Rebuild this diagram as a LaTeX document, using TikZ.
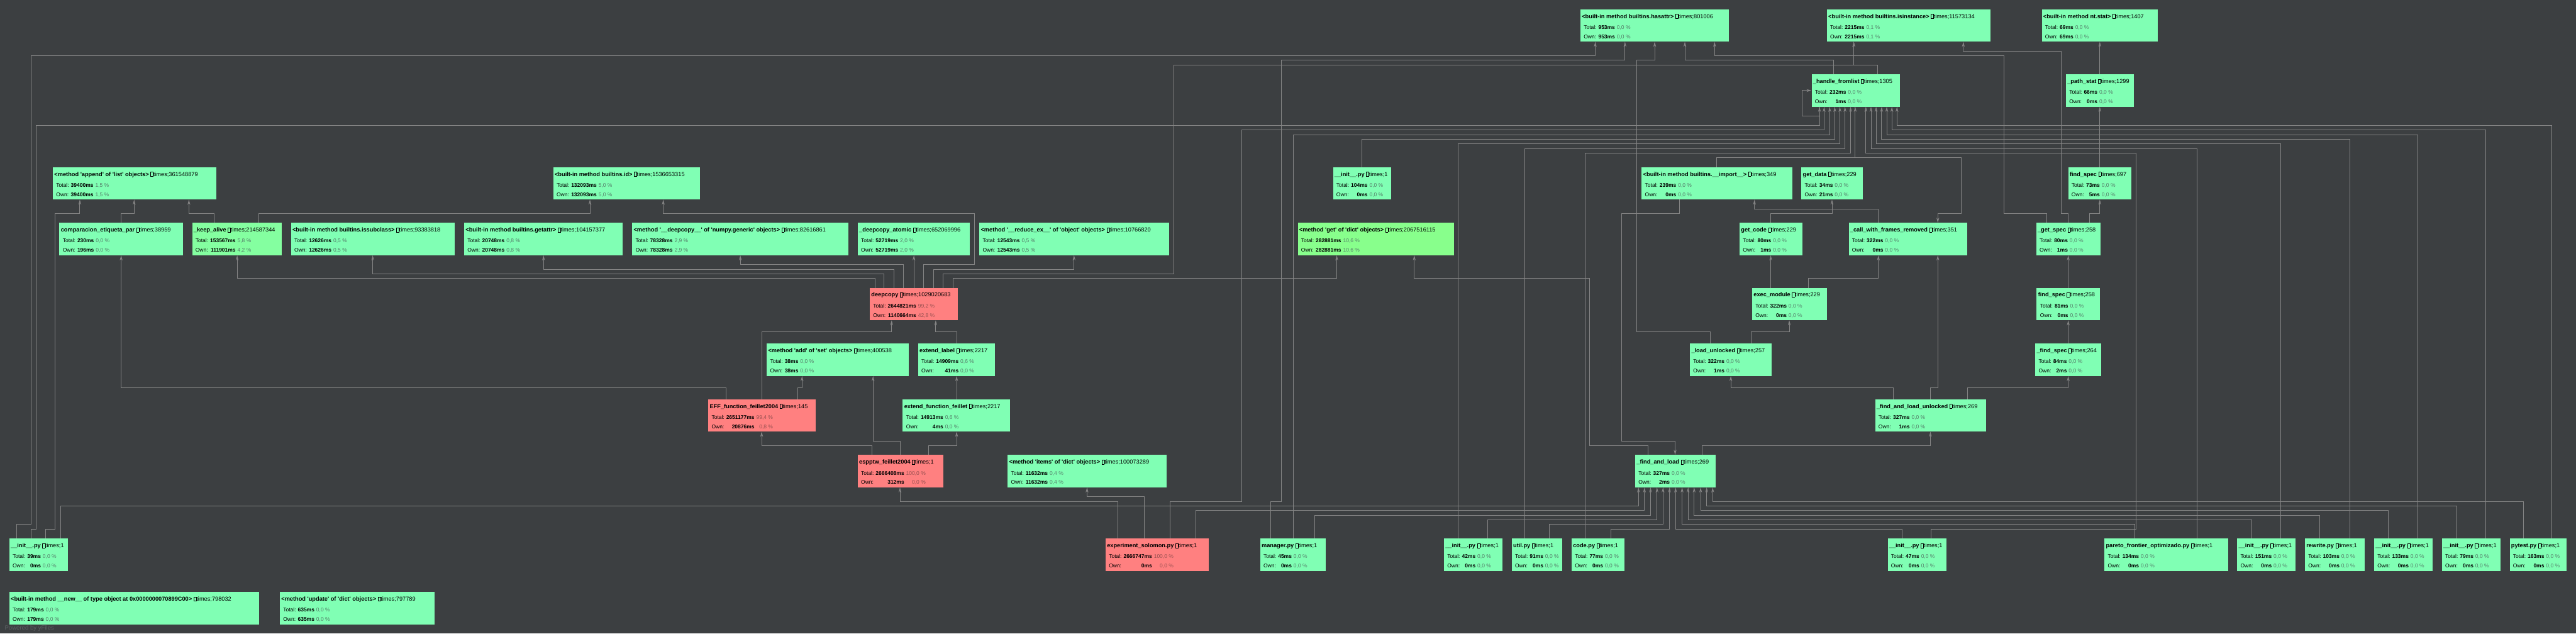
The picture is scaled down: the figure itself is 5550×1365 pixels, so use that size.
\documentclass[tikz,border=0pt]{standalone}
\usepackage{fontspec}
\setmainfont{Liberation Sans}[Ligatures=TeXOff]
\usetikzlibrary{arrows.meta,calc}
\definecolor{bg}{RGB}{60,63,65}
\definecolor{edgec}{RGB}{132,132,132}
\definecolor{fillg}{RGB}{128,255,180}
\definecolor{fillh}{RGB}{132,255,160}
\definecolor{fillk}{RGB}{136,255,140}
\definecolor{fillr}{RGB}{255,128,128}
\definecolor{pcg}{RGB}{85,125,105}
\definecolor{pch}{RGB}{85,125,105}
\definecolor{pck}{RGB}{85,125,105}
\definecolor{pcr}{RGB}{150,80,80}
\newcommand\tb{{\setlength\fboxsep{0pt}\setlength\fboxrule{0.6pt}\fbox{\rule{0pt}{8.5pt}\hspace{5pt}}}}
\newcommand\vv[2]{\textbf{#1} & \textcolor{pc\curst}{#2 \%}}
\newcommand\fn[9]{%
  \def\curst{#5}%
  \node[box,fill=fill#5,minimum width=#4pt,anchor=north west] (#1) at (#2,#3) {};
  \node[ttl] (#1t) at ([xshift=3pt,yshift=-19.5pt]#1.north west) {\textbf{#6} \tb times;#7};
  \node[sts] (#1s) at ([xshift=7pt,yshift=-43pt]#1.north west) {\begin{tabular}[t]{@{}l@{\hspace{4pt}}r@{\hspace{4pt}}r@{}}Total: & #8\\Own: & #9\end{tabular}};
}
\tikzset{
  box/.style={rectangle,draw=none,inner sep=0pt,outer sep=0pt,minimum height=70pt},
  ttl/.style={anchor=base west,inner sep=0pt,font=\fontsize{12.5}{14}\selectfont,text=black},
  sts/.style={anchor=base west,inner sep=0pt,font=\fontsize{11.5}{20}\selectfont,text=black},
  e/.style={draw=edgec,line width=1.3pt,-{Stealth[length=11pt,width=6pt]}},
}
\begin{document}
\begin{tikzpicture}[x=1pt,y=-1pt]
\fill[bg] (0,0) rectangle (5550,1365);
\useasboundingbox (0,0) rectangle (5550,1365);
% ---------- nodes ----------
\fn{hasattr}{3405}{20}{320}{g}{<built-in method builtins.hasattr>}{801006}{\vv{953ms}{0,0}}{\vv{953ms}{0,0}}
\fn{isinst}{3936}{20}{352}{g}{<built-in method builtins.isinstance>}{11573134}{\vv{2215ms}{0,1}}{\vv{2215ms}{0,1}}
\fn{ntstat}{4399}{20}{250}{g}{<built-in method nt.stat>}{1407}{\vv{69ms}{0,0}}{\vv{69ms}{0,0}}
\fn{handle}{3903}{160}{190}{g}{\_handle\_fromlist}{1305}{\vv{232ms}{0,0}}{\vv{1ms}{0,0}}
\fn{pathstat}{4451}{160}{147}{g}{\_path\_stat}{1299}{\vv{66ms}{0,0}}{\vv{0ms}{0,0}}
\fn{append}{114}{360}{352}{g}{<method 'append' of 'list' objects>}{361548879}{\vv{39400ms}{1,5}}{\vv{39400ms}{1,5}}
\fn{bid}{1192}{360}{316}{g}{<built-in method builtins.id>}{1536653315}{\vv{132093ms}{5,0}}{\vv{132093ms}{5,0}}
\fn{initA}{2872}{360}{125}{g}{\_\_init\_\_.py}{1}{\vv{104ms}{0,0}}{\vv{0ms}{0,0}}
\fn{imp}{3537}{360}{324}{g}{<built-in method builtins.\_\_import\_\_>}{349}{\vv{239ms}{0,0}}{\vv{0ms}{0,0}}
\fn{getdata}{3881}{360}{132}{g}{get\_data}{229}{\vv{34ms}{0,0}}{\vv{21ms}{0,0}}
\fn{fspecA}{4456}{360}{136}{g}{find\_spec}{697}{\vv{73ms}{0,0}}{\vv{5ms}{0,0}}
\fn{comp}{128}{480}{266}{g}{comparacion\_etiqueta\_par}{38959}{\vv{230ms}{0,0}}{\vv{196ms}{0,0}}
\fn{keep}{414}{480}{193}{h}{\_keep\_alive}{214587344}{\vv{153567ms}{5,8}}{\vv{111901ms}{4,2}}
\fn{issub}{627}{480}{353}{g}{<built-in method builtins.issubclass>}{93383818}{\vv{12626ms}{0,5}}{\vv{12626ms}{0,5}}
\fn{gattr}{1000}{480}{342}{g}{<built-in method builtins.getattr>}{104157377}{\vv{20748ms}{0,8}}{\vv{20748ms}{0,8}}
\fn{npdc}{1362}{480}{466}{g}{<method '\_\_deepcopy\_\_' of 'numpy.generic' objects>}{82616861}{\vv{78328ms}{2,9}}{\vv{78328ms}{2,9}}
\fn{dcat}{1848}{480}{241}{g}{\_deepcopy\_atomic}{652069996}{\vv{52719ms}{2,0}}{\vv{52719ms}{2,0}}
\fn{redex}{2110}{480}{409}{g}{<method '\_\_reduce\_ex\_\_' of 'object' objects>}{10766820}{\vv{12543ms}{0,5}}{\vv{12543ms}{0,5}}
\fn{dget}{2796}{480}{336}{k}{<method 'get' of 'dict' objects>}{2067516115}{\vv{282881ms}{10,6}}{\vv{282881ms}{10,6}}
\fn{getcode}{3748}{480}{135}{g}{get\_code}{229}{\vv{80ms}{0,0}}{\vv{1ms}{0,0}}
\fn{cwfr}{3983}{480}{256}{g}{\_call\_with\_frames\_removed}{351}{\vv{322ms}{0,0}}{\vv{0ms}{0,0}}
\fn{getspec}{4387}{480}{138}{g}{\_get\_spec}{258}{\vv{80ms}{0,0}}{\vv{1ms}{0,0}}
\fn{deepcopy}{1874}{620}{190}{r}{deepcopy}{1029020683}{\vv{2644821ms}{99,2}}{\vv{1140664ms}{42,8}}
\fn{execmod}{3775}{620}{161}{g}{exec\_module}{229}{\vv{322ms}{0,0}}{\vv{0ms}{0,0}}
\fn{fspecB}{4388}{620}{136}{g}{find\_spec}{258}{\vv{81ms}{0,0}}{\vv{0ms}{0,0}}
\fn{addset}{1652}{740}{306}{g}{<method 'add' of 'set' objects>}{400538}{\vv{38ms}{0,0}}{\vv{38ms}{0,0}}
\fn{extlabel}{1978}{740}{166}{g}{extend\_label}{2217}{\vv{14909ms}{0,6}}{\vv{41ms}{0,0}}
\fn{loadunl}{3641}{740}{176}{g}{\_load\_unlocked}{257}{\vv{322ms}{0,0}}{\vv{1ms}{0,0}}
\fn{fspecC}{4385}{740}{142}{g}{\_find\_spec}{264}{\vv{84ms}{0,0}}{\vv{2ms}{0,0}}
\fn{eff}{1526}{860}{231}{r}{EFF\_function\_feillet2004}{145}{\vv{2651177ms}{99,4}}{\vv{20876ms}{0,8}}
\fn{extfun}{1945}{860}{231}{g}{extend\_function\_feillet}{2217}{\vv{14913ms}{0,6}}{\vv{4ms}{0,0}}
\fn{fandlu}{4040}{860}{239}{g}{\_find\_and\_load\_unlocked}{269}{\vv{327ms}{0,0}}{\vv{1ms}{0,0}}
\fn{espptw}{1848}{980}{184}{r}{espptw\_feillet2004}{1}{\vv{2666408ms}{100,0}}{\vv{312ms}{0,0}}
\fn{items}{2171}{980}{343}{g}{<method 'items' of 'dict' objects>}{100073289}{\vv{11632ms}{0,4}}{\vv{11632ms}{0,4}}
\fn{fandl}{3523}{980}{173}{g}{\_find\_and\_load}{269}{\vv{327ms}{0,0}}{\vv{2ms}{0,0}}
\fn{initL}{20}{1160}{126}{g}{\_\_init\_\_.py}{1}{\vv{39ms}{0,0}}{\vv{0ms}{0,0}}
\fn{expsol}{2382}{1160}{222}{r}{experiment\_solomon.py}{1}{\vv{2666747ms}{100,0}}{\vv{0ms}{0,0}}
\fn{manager}{2715}{1160}{141}{g}{manager.py}{1}{\vv{45ms}{0,0}}{\vv{0ms}{0,0}}
\fn{initB}{3111}{1160}{126}{g}{\_\_init\_\_.py}{1}{\vv{42ms}{0,0}}{\vv{0ms}{0,0}}
\fn{util}{3257}{1160}{109}{g}{util.py}{1}{\vv{91ms}{0,0}}{\vv{0ms}{0,0}}
\fn{code}{3386}{1160}{114}{g}{code.py}{1}{\vv{77ms}{0,0}}{\vv{0ms}{0,0}}
\fn{initC}{4067}{1160}{126}{g}{\_\_init\_\_.py}{1}{\vv{47ms}{0,0}}{\vv{0ms}{0,0}}
\fn{pareto}{4534}{1160}{266}{g}{pareto\_frontier\_optimizado.py}{1}{\vv{134ms}{0,0}}{\vv{0ms}{0,0}}
\fn{initD}{4820}{1160}{126}{g}{\_\_init\_\_.py}{1}{\vv{151ms}{0,0}}{\vv{0ms}{0,0}}
\fn{rewrite}{4966}{1160}{129}{g}{rewrite.py}{1}{\vv{103ms}{0,0}}{\vv{0ms}{0,0}}
\fn{initE}{5115}{1160}{126}{g}{\_\_init\_\_.py}{1}{\vv{133ms}{0,0}}{\vv{0ms}{0,0}}
\fn{initF}{5261}{1160}{126}{g}{\_\_init\_\_.py}{1}{\vv{79ms}{0,0}}{\vv{0ms}{0,0}}
\fn{pytest}{5407}{1160}{122}{g}{pytest.py}{1}{\vv{163ms}{0,0}}{\vv{0ms}{0,0}}
\fn{newobj}{20}{1275}{538}{g}{<built-in method \_\_new\_\_ of type object at 0x0000000070899C00>}{798032}{\vv{179ms}{0,0}}{\vv{179ms}{0,0}}
\fn{upd}{603}{1275}{333}{g}{<method 'update' of 'dict' objects>}{797789}{\vv{635ms}{0,0}}{\vv{635ms}{0,0}}
\node[anchor=base west,inner sep=0pt,font=\fontsize{13}{15}\selectfont,text={rgb,255:red,92;green,96;blue,99}] (yf) at (10,1357) {Powered by yFiles};
% ---------- edges ----------
\draw[e] (comp.north -| 261,0) |- (289,460) -- (append.south -| 289,0);
\draw[e] (keep.north -| 462,0) |- (407,460) -- (append.south -| 407,0);
\draw[e] (initL.north -| 98,0) -- (98,1140) -- (118,1140) -- (118,460) -- (172,460) -- (append.south -| 172,0);
\draw[e] (initL.north -| 36,0) -- (36,1130) -- (67,1130) -- (67,120) -- (3437,120) -- (hasattr.south -| 3437,0);
\draw[e] (initL.north -| 67,0) -- (67,1140) -- (78,1140) -- (78,270) -- (3920,270) -- (handle.south -| 3920,0);
\draw[e] (initL.north -| 131,0) |- (3530,1090) -- (fandl.south -| 3530,0);
\draw[e] (keep.north -| 558,0) |- (1271,460) -- (bid.south -| 1271,0);
\draw[e] (deepcopy.north -| 1990,0) |- (2099,570) -- (2099,460) -- (1429,460) -- (bid.south -| 1429,0);
\draw[e] (deepcopy.north -| 1885,0) |- (511,600) -- (keep.south -| 511,0);
\draw[e] (deepcopy.north -| 1905,0) |- (803,590) -- (issub.south -| 803,0);
\draw[e] (deepcopy.north -| 1926,0) |- (1171,580) -- (gattr.south -| 1171,0);
\draw[e] (deepcopy.north -| 1947,0) |- (1595,570) -- (npdc.south -| 1595,0);
\draw[e] (deepcopy.north -| 1969,0) -- (dcat.south -| 1969,0);
\draw[e] (deepcopy.north -| 2011,0) |- (2314,580) -- (redex.south -| 2314,0);
\draw[e] (deepcopy.north -| 2032,0) |- (2529,590) -- (2529,140) -- (3994,140) -- (isinst.south -| 3994,0);
\draw[e] (deepcopy.north -| 2054,0) |- (2880,600) -- (dget.south -| 2880,0);
\draw[e] (eff.north -| 1564,0) |- (261,835) -- (comp.south -| 261,0);
\draw[e] (eff.north -| 1641,0) |- (1921,715) -- (deepcopy.south -| 1921,0);
\draw[e] (eff.north -| 1719,0) |- (1728,835) -- (addset.south -| 1728,0);
\draw[e] (extlabel.north -| 2061,0) |- (2016,715) -- (deepcopy.south -| 2016,0);
\draw[e] (extfun.north -| 2061,0) -- (extlabel.south -| 2061,0);
\draw[e] (espptw.north -| 1879,0) |- (1641,960) -- (eff.south -| 1641,0);
\draw[e] (espptw.north -| 1940,0) |- (1881,950) -- (addset.south -| 1881,0);
\draw[e] (espptw.north -| 2001,0) |- (2061,960) -- (extfun.south -| 2061,0);
\draw[e] (expsol.north -| 2409,0) |- (1939,1080) -- (espptw.south -| 1939,0);
\draw[e] (expsol.north -| 2465,0) |- (2342,1070) -- (items.south -| 2342,0);
\draw[e] (expsol.north -| 2521,0) |- (2675,1080) -- (2675,280) -- (3930,280) -- (handle.south -| 3930,0);
\draw[e] (expsol.north -| 2576,0) |- (3543,1100) -- (fandl.south -| 3543,0);
\draw[e] (manager.north -| 2738,0) |- (2761,1080) -- (2761,130) -- (3501,130) -- (hasattr.south -| 3501,0);
\draw[e] (manager.north -| 2786,0) |- (3942,290) -- (handle.south -| 3942,0);
\draw[e] (manager.north -| 2832,0) |- (3556,1110) -- (fandl.south -| 3556,0);
\draw[e] (initA.north -| 2934,0) |- (3953,300) -- (handle.south -| 3953,0);
\draw[e] (initB.north -| 3142,0) |- (3964,310) -- (handle.south -| 3964,0);
\draw[e] (initB.north -| 3205,0) |- (3570,1120) -- (fandl.south -| 3570,0);
\draw[e] (util.north -| 3285,0) |- (3975,320) -- (handle.south -| 3975,0);
\draw[e] (util.north -| 3338,0) |- (3583,1130) -- (fandl.south -| 3583,0);
\draw[e] (code.north -| 3415,0) |- (3987,330) -- (handle.south -| 3987,0);
\draw[e] (code.north -| 3471,0) |- (3597,1140) -- (fandl.south -| 3597,0);
\draw[e] (imp.north -| 3699,0) |- (3997,340) -- (handle.south -| 3997,0);
\draw[e] (handle.south -| 3997,0) -- (3997,340) -- (4226,340) -- (4226,460) -- (4175,460) -- (cwfr.north -| 4175,0);
\draw[e] (handle.south -| 3920,0) -- (3920,250) -- (3883,250) -- (3883,195) -- (handle.west |- 0,195);
\draw[e] (handle.north -| 3950,0) |- (3630,130) -- (hasattr.south -| 3630,0);
\draw[e] (handle.north -| 4045,0) |- (3994,140) -- (isinst.south -| 3994,0);
\draw[e] (imp.south -| 3618,0) |- (3494,460) -- (3494,950) -- (3609,950) -- (fandl.north -| 3609,0);
\draw[e] (cwfr.north -| 4047,0) |- (3780,450) -- (imp.south -| 3780,0);
\draw[e] (getcode.north -| 3815,0) |- (3947,460) -- (getdata.south -| 3947,0);
\draw[e] (execmod.north -| 3815,0) -- (getcode.south -| 3815,0);
\draw[e] (execmod.north -| 3896,0) |- (4047,600) -- (cwfr.south -| 4047,0);
\draw[e] (loadunl.north -| 3773,0) |- (3855,715) -- (execmod.south -| 3855,0);
\draw[e] (loadunl.north -| 3685,0) |- (3526,715) -- (3526,130) -- (3565,130) -- (hasattr.south -| 3565,0);
\draw[e] (fandl.north -| 3551,0) |- (3425,960) -- (3425,600) -- (3047,600) -- (dget.south -| 3047,0);
\draw[e] (fandl.north -| 3667,0) |- (4159,960) -- (fandlu.south -| 4159,0);
\draw[e] (fandlu.north -| 4079,0) |- (3729,835) -- (loadunl.south -| 3729,0);
\draw[e] (fandlu.north -| 4159,0) |- (4175,835) -- (cwfr.south -| 4175,0);
\draw[e] (fandlu.north -| 4239,0) |- (4456,835) -- (fspecC.south -| 4456,0);
\draw[e] (fspecC.north -| 4456,0) -- (fspecB.south -| 4456,0);
\draw[e] (fspecB.north -| 4456,0) -- (getspec.south -| 4456,0);
\draw[e] (getspec.north -| 4410,0) |- (4318,460) -- (4318,120) -- (3694,120) -- (hasattr.south -| 3694,0);
\draw[e] (getspec.north -| 4456,0) |- (4441,460) -- (4441,110) -- (4230,110) -- (isinst.south -| 4230,0);
\draw[e] (getspec.north -| 4502,0) |- (4524,460) -- (fspecA.south -| 4524,0);
\draw[e] (fspecA.north -| 4524,0) -- (pathstat.south -| 4524,0);
\draw[e] (pathstat.north -| 4524,0) -- (ntstat.south -| 4524,0);
\draw[e] (initC.north -| 4098,0) |- (3610,1140) -- (fandl.south -| 3610,0);
\draw[e] (initC.north -| 4160,0) |- (4602,1140) -- (4602,330) -- (4020,330) -- (handle.south -| 4020,0);
\draw[e] (pareto.north -| 4600,0) |- (3624,1130) -- (fandl.south -| 3624,0);
\draw[e] (pareto.north -| 4733,0) |- (4031,320) -- (handle.south -| 4031,0);
\draw[e] (initD.north -| 4851,0) |- (3637,1120) -- (fandl.south -| 3637,0);
\draw[e] (initD.north -| 4914,0) |- (4042,310) -- (handle.south -| 4042,0);
\draw[e] (rewrite.north -| 4998,0) |- (3650,1110) -- (fandl.south -| 3650,0);
\draw[e] (rewrite.north -| 5063,0) |- (4054,300) -- (handle.south -| 4054,0);
\draw[e] (initE.north -| 5146,0) |- (3664,1100) -- (fandl.south -| 3664,0);
\draw[e] (initE.north -| 5209,0) |- (4065,290) -- (handle.south -| 4065,0);
\draw[e] (initF.north -| 5293,0) |- (3677,1090) -- (fandl.south -| 3677,0);
\draw[e] (initF.north -| 5356,0) |- (4076,280) -- (handle.south -| 4076,0);
\draw[e] (pytest.north -| 5437,0) |- (3690,1080) -- (fandl.south -| 3690,0);
\draw[e] (pytest.north -| 5498,0) |- (4087,270) -- (handle.south -| 4087,0);
\end{tikzpicture}
\end{document}
